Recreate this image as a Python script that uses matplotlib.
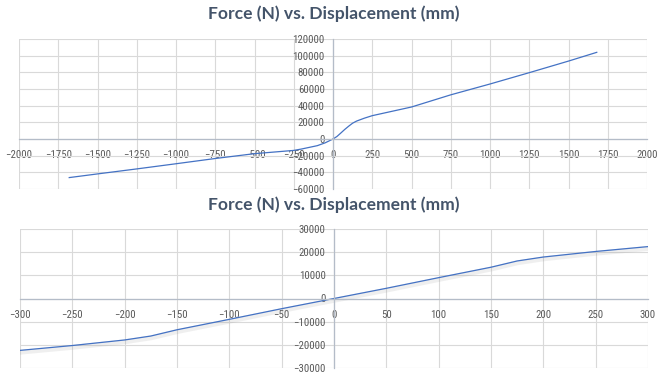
import matplotlib
matplotlib.use("Agg")
import matplotlib.pyplot as plt
import matplotlib.patheffects as pe
from matplotlib import font_manager as fm

# ---------------- data ----------------
title_text = "Force (N) vs. Displacement (mm)"

disp_full = [-1680, -1500, -1250, -1000, -750, -500, -250, -200, -150, -100, -50, 0,
             25, 50, 75, 100, 125, 150, 200, 250, 500, 750, 1000, 1250, 1500, 1680]
force_full = [-46300, -41900, -35900, -29700, -23400, -17600, -13700, -12000, -10000, -8000, -4600, 0,
              3000, 7200, 11500, 15400, 19000, 21500, 25000, 28000, 38400, 53000, 66000, 79600, 93500, 104000]

disp_zoom = [-300, -250, -200, -175, -150, -100, -50, 0, 50, 100, 150, 175, 200, 250, 300]
force_zoom = [-22400, -20300, -17900, -16200, -13500, -9000, -4400, 0, 4400, 9000, 13500, 16200, 17900, 20300, 22400]

full_xticks = list(range(-2000, 2001, 250))
full_yticks = list(range(-60000, 120001, 20000))
zoom_xticks = list(range(-300, 301, 50))
zoom_yticks = list(range(-30000, 30001, 10000))

# ---------------- style ----------------
names = {f.name for f in fm.fontManager.ttflist}
tick_font, tick_size = "Liberation Sans", 6.8
for cand, sz in (("Liberation Sans Narrow", 8.2), ("Roboto Condensed", 7.8),
                 ("Open Sans Condensed", 7.8)):
    if cand in names:
        tick_font, tick_size = cand, sz
        break
title_font = "Lato" if "Lato" in names else "DejaVu Sans"

plt.rcParams["font.family"] = [tick_font, "DejaVu Sans"]

LINE = "#4472C4"
GRID = "#D9D9D9"
AXIS = "#B4BCC8"
TXT = "#595959"
TITLE = "#44546A"

W, H = 668, 374
fig = plt.figure(figsize=(W / 100, H / 100), dpi=100)


def make_axes(left_px, right_px, top_px, bottom_px):
    return fig.add_axes([left_px / W, 1 - bottom_px / H,
                         (right_px - left_px) / W, (bottom_px - top_px) / H])


def style(ax, xt, yt):
    ax.set_xlim(xt[0], xt[-1])
    ax.set_ylim(yt[0], yt[-1])
    ax.set_xticks(xt)
    ax.set_yticks(yt)
    ax.grid(True, color=GRID, lw=0.8)
    ax.set_axisbelow(True)
    for s in ("top", "right"):
        ax.spines[s].set_visible(False)
    ax.spines["left"].set_position(("data", 0))
    ax.spines["bottom"].set_position(("data", 0))
    for s in ("left", "bottom"):
        ax.spines[s].set_color(AXIS)
        ax.spines[s].set_linewidth(0.9)
    ax.tick_params(axis="both", length=0, labelsize=tick_size, labelcolor=TXT)
    ax.tick_params(axis="x", pad=8)
    ax.tick_params(axis="y", pad=6)
    ax.set_facecolor("none")


# top chart
ax1 = make_axes(19, 647, 39, 189)
style(ax1, full_xticks, full_yticks)
ax1.plot(disp_full, force_full, color=LINE, lw=0.9, solid_joinstyle="round")
fig.text(0.5, 1 - 14 / H, title_text, ha="center", va="center",
         fontsize=12.6, fontweight="bold", color=TITLE, fontfamily=title_font)

# bottom chart
ax2 = make_axes(20, 648, 229, 368)
style(ax2, zoom_xticks, zoom_yticks)
ax2.plot(disp_zoom, force_zoom, color=LINE, lw=0.9, solid_joinstyle="round",
         path_effects=[pe.SimpleLineShadow(offset=(0.3, -1.3), shadow_color="#8a8a8a",
                                           alpha=0.13, linewidth=3.5),
                       pe.Normal()])
fig.text(0.5, 1 - 205 / H, title_text, ha="center", va="center",
         fontsize=12.6, fontweight="bold", color=TITLE, fontfamily=title_font)

fig.savefig("out.png", dpi=100)
